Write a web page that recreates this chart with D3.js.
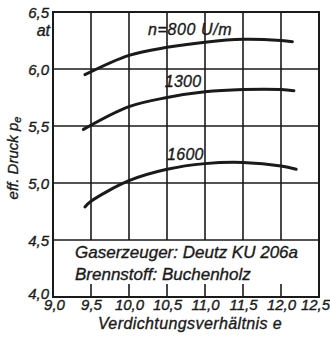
<!DOCTYPE html>
<html>
<head>
<meta charset="utf-8">
<script src="https://cdn.jsdelivr.net/npm/d3@7"></script>
<style>
  html, body { margin: 0; padding: 0; background: #fff; }
  svg text { font-family: "Liberation Sans", Arial, sans-serif; font-style: italic; fill: #1a1a1a; stroke: #1a1a1a; stroke-width: 0.35px; }
</style>
</head>
<body>
<svg id="chart" width="330" height="340"></svg>
<script>
// Verdichtungsverhältnis (x) gegen effektiven Druck (y) für drei Drehzahlen
const xTicks = [9.0, 9.5, 10.0, 10.5, 11.0, 11.5, 12.0, 12.5];
const xTickLabels = ["9,0", "9,5", "10,0", "10,5", "11,0", "11,5", "12,0", "12,5"];
const yTicks = [4.0, 4.5, 5.0, 5.5, 6.0, 6.5];
const yTickLabels = ["4,0", "4,5", "5,0", "5,5", "6,0", "6,5"];

const speeds = ["n=800 U/m", "1300", "1600"];
const eps800  = [9.42, 10.0, 10.5, 11.0, 11.5, 12.0, 12.15];
const pe800   = [5.95, 6.12, 6.19, 6.235, 6.26, 6.25, 6.24];
const eps1300 = [9.40, 10.0, 10.5, 11.0, 11.5, 12.0, 12.17];
const pe1300  = [5.47, 5.67, 5.75, 5.80, 5.82, 5.82, 5.81];
const eps1600 = [9.42, 9.5, 10.0, 10.5, 11.0, 11.5, 12.0, 12.2];
const pe1600  = [4.79, 4.84, 5.02, 5.12, 5.17, 5.18, 5.15, 5.12];

const series = [
  { label: speeds[0], xs: eps800,  ys: pe800,  lx: 10.25, ly: 6.30 },
  { label: speeds[1], xs: eps1300, ys: pe1300, lx: 10.47, ly: 5.84 },
  { label: speeds[2], xs: eps1600, ys: pe1600, lx: 10.5,  ly: 5.2 }
];

const svg = d3.select("#chart");
const x = d3.scaleLinear().domain([9.0, 12.5]).range([53, 319]);
const y = d3.scaleLinear().domain([4.0, 6.5]).range([297, 12]);
const ink = "#1a1a1a";
const plotW = x(12.5) - x(9.0);

// Beschriftung links
const yAxis = svg.append("g")
  .attr("transform", `translate(${x(9.0)},0)`)
  .call(d3.axisLeft(y).tickValues(yTicks).tickSize(0).tickPadding(4)
    .tickFormat((d, i) => yTickLabels[i]));
yAxis.select(".domain").remove();
yAxis.selectAll(".tick line").remove();
yAxis.selectAll(".tick text").attr("font-size", 15)
  .attr("dy", d => d === 4.0 ? "0.1em" : "0.35em");

// Beschriftung unten
const xAxis = svg.append("g")
  .attr("transform", `translate(0,${y(4.0)})`)
  .call(d3.axisBottom(x).tickValues(xTicks).tickSize(0).tickPadding(3)
    .tickFormat((d, i) => xTickLabels[i]));
xAxis.select(".domain").remove();
xAxis.selectAll(".tick line").remove();
xAxis.selectAll(".tick text").attr("font-size", 15).attr("y", 13).attr("dy", 0)
  .attr("x", d => d === 12.5 ? -4 : (d === 9.0 ? 1 : 0));

// Kurven
const curve = d3.line().x(d => x(d[0])).y(d => y(d[1])).curve(d3.curveCatmullRom);
series.forEach(s => {
  svg.append("path")
    .attr("d", curve(s.xs.map((v, i) => [v, s.ys[i]])))
    .attr("fill", "none").attr("stroke", ink).attr("stroke-width", 3)
    .attr("stroke-linecap", "round");
  svg.append("text")
    .attr("x", x(s.lx)).attr("y", y(s.ly))
    .attr("font-size", 16)
    .attr("letter-spacing", s.label.length > 4 ? 0.6 : 0.3)
    .text(s.label);
});

svg.append("text").attr("x", 50).attr("y", 36)
  .attr("text-anchor", "end").attr("font-size", 16).text("at");

svg.append("text")
  .attr("x", 190).attr("y", 329)
  .attr("text-anchor", "middle").attr("font-size", 16)
  .attr("letter-spacing", 0.4)
  .text("Verdichtungsverhältnis e");

const yTitle = svg.append("text")
  .attr("transform", "translate(18,158) rotate(-90)")
  .attr("text-anchor", "middle").attr("font-size", 15);
yTitle.append("tspan").text("eff. Druck p");
yTitle.append("tspan").attr("font-size", 11).attr("dy", 3).text("e");

// Textfeld
svg.append("text").attr("x", 75).attr("y", 258).attr("font-size", 17)
  .text("Gaserzeuger: Deutz KU 206a");
svg.append("text").attr("x", 75).attr("y", 280).attr("font-size", 17)
  .text("Brennstoff: Buchenholz");

// Gitter: waagerecht über die ganze Breite, senkrecht nur oberhalb des Textfeldes,
// dazu kurze Striche am unteren Rand
const gridLayer = svg.append("g").attr("class", "gitter");
yTicks.slice(1, -1).forEach(v => {
  gridLayer.append("line")
    .attr("x1", x(9.0)).attr("x2", x(12.5)).attr("y1", y(v)).attr("y2", y(v))
    .style("stroke", ink).style("stroke-width", "1.6px");
});
xTicks.slice(1, -1).forEach(v => {
  gridLayer.append("line")
    .attr("x1", x(v)).attr("x2", x(v)).attr("y1", y(6.5)).attr("y2", y(4.5))
    .style("stroke", ink).style("stroke-width", "1.6px");
  gridLayer.append("line")
    .attr("x1", x(v)).attr("x2", x(v)).attr("y1", y(4.0)).attr("y2", y(4.0) - 13)
    .style("stroke", ink).style("stroke-width", "1.6px");
});

// Rahmen
const frame = d3.path();
frame.rect(x(9.0), y(6.5), plotW, y(4.0) - y(6.5));
svg.append("path")
  .attr("d", frame.toString())
  .attr("fill", "none").attr("stroke", ink).attr("stroke-width", 2);
</script>
</body>
</html>
